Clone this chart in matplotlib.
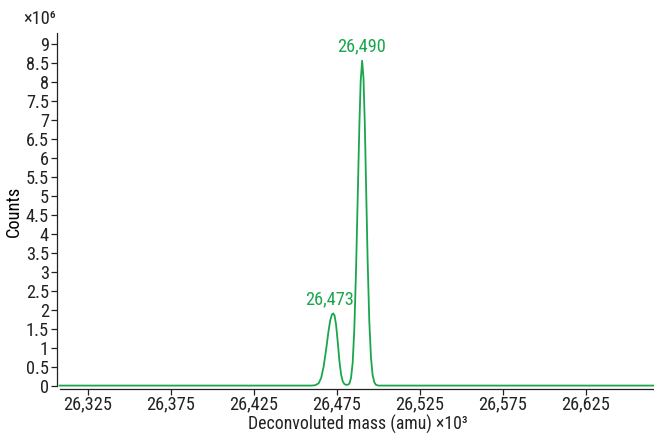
import matplotlib
matplotlib.use('Agg')
import matplotlib.pyplot as plt
from matplotlib.ticker import FuncFormatter

plt.rcParams['font.family'] = ['Roboto Condensed', 'DejaVu Sans']

# spectrum points (mass in amu, counts in 1e6)
mass = [26308, 26440, 26460, 26462, 26464, 26465.5, 26467, 26468.5, 26470, 26471,
        26472, 26472.8, 26473.6, 26474.5, 26475.5, 26476.5, 26477.5, 26478.5,
        26479.5, 26480.5, 26481.5, 26482.5, 26483.5, 26484.5, 26485.5, 26486.5,
        26487.5, 26488.5, 26489.3, 26490.2, 26491, 26491.8, 26492.6, 26493.5,
        26494.5, 26495.5, 26496.5, 26497.5, 26498.5, 26500, 26520, 26666]
counts = [0, 0, 0, 0.01, 0.06, 0.2, 0.5, 0.95, 1.45, 1.72,
          1.87, 1.9, 1.84, 1.6, 1.15, 0.65, 0.3, 0.11,
          0.04, 0.02, 0.02, 0.05, 0.2, 0.6, 1.5, 3.0,
          4.9, 6.8, 8.0, 8.55, 8.1, 6.9, 5.2, 3.3,
          1.7, 0.75, 0.28, 0.09, 0.02, 0, 0, 0]

peak_label_x = [26470.5, 26490.0]
peak_counts = [1.9, 8.55]
peak_labels = ['26,473', '26,490']

x_ticks = [26325, 26375, 26425, 26475, 26525, 26575, 26625]
y_ticks = [0, 0.5, 1, 1.5, 2, 2.5, 3, 3.5, 4, 4.5, 5, 5.5, 6, 6.5, 7, 7.5, 8, 8.5, 9]

green = '#19a64c'
fs = 13.2

fig = plt.figure(figsize=(6.54, 4.34), dpi=100)
ax = fig.add_axes([58 / 654, 1 - 389 / 434, (654 - 58) / 654, (389 - 33) / 434])

ax.plot(mass, counts, color=green, lw=1.3)
for m, c, t in zip(peak_label_x, peak_counts, peak_labels):
    ax.text(m, c + 0.13, t, color=green, fontsize=fs, ha='center', va='bottom')

ax.set_xlim(26307, 26666)
ax.set_ylim(-0.09, 9.28)
ax.set_xticks(x_ticks)
ax.set_yticks(y_ticks)
ax.xaxis.set_major_formatter(FuncFormatter(lambda v, p: f'{int(round(v)):,}'))
ax.yaxis.set_major_formatter(FuncFormatter(lambda v, p: f'{v:g}'))
ax.tick_params(labelsize=fs, length=4, width=0.9, pad=1.5, colors='#222222')
ax.tick_params(axis='x', pad=0.5)

for s in ['top', 'right']:
    ax.spines[s].set_visible(False)
ax.spines['left'].set_bounds(0, 9.28)
ax.spines['left'].set_position(('outward', 1))
ax.spines['bottom'].set_bounds(26308, 26666)
for s in ['left', 'bottom']:
    ax.spines[s].set_linewidth(0.9)
    ax.spines[s].set_color('#222222')

ax.set_ylabel('Counts', fontsize=fs, labelpad=2)
# plain unicode superscripts keep the label boxes tight
fig.text(358 / 654, 1 - 424 / 434, 'Deconvoluted mass (amu) \u00d710\u00b3', fontsize=12.8,
         ha='center', va='center', color='#222222')
fig.text(23 / 654, 1 - 19 / 434, '\u00d710\u2076', fontsize=fs, va='center', color='#222222')

fig.savefig('out.png', dpi=100)
